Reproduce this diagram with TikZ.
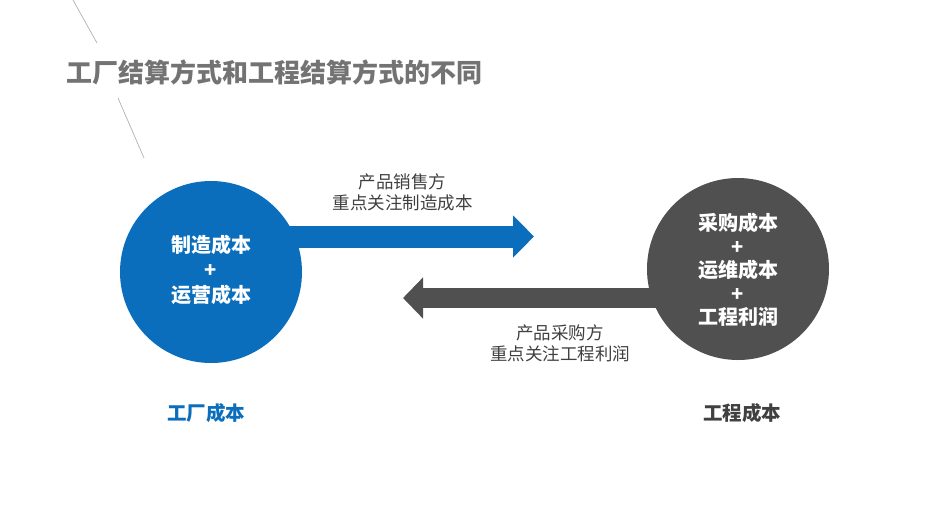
\documentclass[tikz,border=0pt]{standalone}
\usepackage{fontspec}
\newfontfamily\cjk{Noto Sans CJK SC}
\usetikzlibrary{arrows.meta}
\definecolor{cblue}{HTML}{0A6EBD}
\definecolor{cgray}{HTML}{505050}
\definecolor{ctitle}{HTML}{737373}
\definecolor{ctext}{HTML}{404040}
\definecolor{cline}{HTML}{B0B0B0}
\tikzset{
  circ/.style={circle, minimum size=182pt, inner sep=0pt},
  intext/.style={text=white, align=center, font=\cjk\bfseries\fontsize{20}{25}\selectfont},
  lbl/.style={text=ctext, align=center, font=\cjk\fontsize{17.5}{21}\selectfont},
  bottomlbl/.style={font=\cjk\bfseries\fontsize{19.5}{23}\selectfont},
}
\begin{document}
\begin{tikzpicture}[x=1pt,y=-1pt]
\useasboundingbox (0,0) rectangle (946,531);
% decorative lines
\coordinate (l1a) at (73,0); \coordinate (l1b) at (97,43);
\coordinate (l2a) at (118,98); \coordinate (l2b) at (144,158);
\draw[cline, line width=0.7pt] (l1a) -- (l1b);
\draw[cline, line width=0.7pt] (l2a) -- (l2b);
% title
\node[anchor=west, inner sep=0pt, text=ctitle, font=\cjk\bfseries\fontsize{26}{30}\selectfont] (title) at (66,72) {工厂结算方式和工程结算方式的不同};
% circle positions
\coordinate (bc) at (211,272);
\coordinate (gc) at (738,269);
\coordinate (btip) at (534,236.5);
\coordinate (gtip) at (403,298);
% arrows
\draw[cblue, line width=22pt, -{Triangle[length=21pt,width=41pt]}] (btip -| bc) -- (btip);
\draw[cgray, line width=20pt, -{Triangle[length=20pt,width=40pt]}] (gtip -| gc) -- (gtip);
% circles
\node[circ, fill=cblue] (blue) at (bc) {};
\node[circ, fill=cgray] (gray) at (gc) {};
\node[intext] (btext) at (211,270) {制造成本\\+\\运营成本};
\node[intext, font=\cjk\bfseries\fontsize{20}{23.5}\selectfont] (gtext) at (738,270) {采购成本\\+\\运维成本\\+\\工程利润};
% labels
\node[lbl] (up) at (402.5,192.5) {产品销售方\\重点关注制造成本};
\node[lbl] (down) at (560,343) {产品采购方\\重点关注工程利润};
\node[bottomlbl, text=cblue] (fc) at (206,413) {工厂成本};
\node[bottomlbl, text=ctext] (gcost) at (742,413) {工程成本};
\end{tikzpicture}
\end{document}
